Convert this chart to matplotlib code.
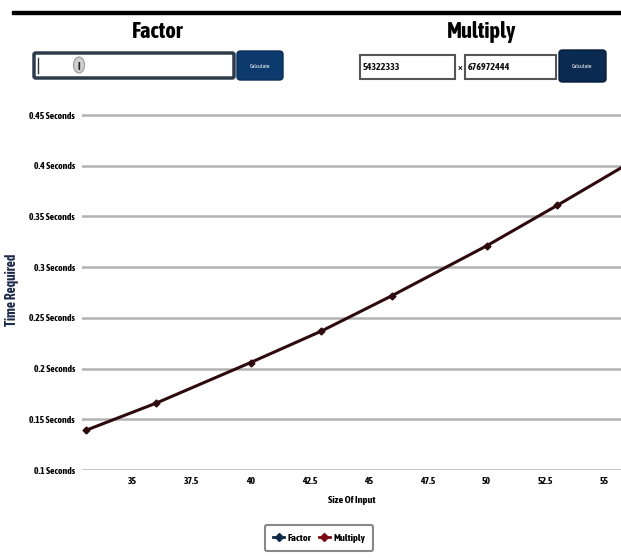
import matplotlib.pyplot as plt
from matplotlib import font_manager
from matplotlib.patches import FancyBboxPatch, Rectangle, Ellipse
from matplotlib.lines import Line2D

# data
input_size = [33, 36, 40, 43, 46, 50, 53, 56]
multiply_time = [0.139, 0.166, 0.206, 0.237, 0.272, 0.321, 0.361, 0.402]
factor_size = []
factor_time = []

y_ticks = [0.1, 0.15, 0.2, 0.25, 0.3, 0.35, 0.4, 0.45]
y_labels = ['0.1 Seconds', '0.15 Seconds', '0.2 Seconds', '0.25 Seconds',
            '0.3 Seconds', '0.35 Seconds', '0.4 Seconds', '0.45 Seconds']
x_ticks = [35, 37.5, 40, 42.5, 45, 47.5, 50, 52.5, 55]
x_labels = ['35', '37.5', '40', '42.5', '45', '47.5', '50', '52.5', '55']

W, H = 621, 558


def _weight(w):
    if isinstance(w, str):
        return {'bold': 700, 'heavy': 800, 'black': 900, 'semibold': 600,
                'demibold': 600, 'extra bold': 800}.get(w, 400)
    return w


# prefer a narrow upright bold face if one happens to be installed
fonts = font_manager.fontManager.ttflist
narrow = sorted({f.name for f in fonts
                 if ('Narrow' in f.name or 'Condensed' in f.name
                     or f.stretch in ('condensed', 'semi-condensed'))
                 and _weight(f.weight) >= 600 and f.style == 'normal'})
FONT = narrow[:1] + ['Liberation Sans', 'DejaVu Sans']
plt.rcParams['font.family'] = FONT
k = 1.15 if narrow else 1.0

fig = plt.figure(figsize=(W / 100, H / 100), dpi=100)
fig.patch.set_facecolor('white')


def fx(px):
    return px / W


def fy(py):
    return 1 - py / H


def box(x0, y0, x1, y1, **kw):
    p = FancyBboxPatch((fx(x0), fy(y1)), fx(x1 - x0), (y1 - y0) / H,
                       transform=fig.transFigure, **kw)
    fig.add_artist(p)


# top black bar
fig.add_artist(Rectangle((fx(12), fy(14)), fx(621 - 12), 3 / H,
                         transform=fig.transFigure, color='black'))

# headings
fig.text(fx(158), fy(32), 'Factor', ha='center', va='center',
         fontsize=14 * k, fontweight='bold')
fig.text(fx(482), fy(32), 'Multiply', ha='center', va='center',
         fontsize=14 * k, fontweight='bold')

# factor input + button
box(34, 53, 234, 78, boxstyle='round,pad=0,rounding_size=0.003',
    facecolor='white', edgecolor='#2c3b4c', linewidth=2.5)
fig.add_artist(Line2D([fx(38), fx(38)], [fy(58), fy(73)],
                      transform=fig.transFigure, color='#333333', lw=1))
fig.add_artist(Ellipse((fx(79), fy(65)), 11 / W, 16 / H,
                       transform=fig.transFigure, facecolor='#d0d0d0',
                       edgecolor='#999999', lw=0.8))
fig.text(fx(79), fy(66), 'I', ha='center', va='center', fontsize=8,
         fontweight='bold', color='#222222')
box(237, 51, 283, 80, boxstyle='round,pad=0,rounding_size=0.006',
    facecolor='#0d3a6e', edgecolor='#0a2c55', linewidth=1)
fig.text(fx(260), fy(66), 'Calculate', ha='center', va='center',
         fontsize=4.2, color='white')

# multiply inputs + button
box(360, 55, 455, 79, boxstyle='square,pad=0',
    facecolor='white', edgecolor='#555555', linewidth=1.5)
fig.text(fx(363), fy(67), '54322333', ha='left', va='center',
         fontsize=6.3 * k, fontweight='bold', color='#111111')
fig.text(fx(460), fy(67), '×', ha='center', va='center',
         fontsize=6.5, fontweight='bold', color='#111111')
box(465, 55, 556, 79, boxstyle='square,pad=0',
    facecolor='white', edgecolor='#555555', linewidth=1.5)
fig.text(fx(468), fy(67), '676972444', ha='left', va='center',
         fontsize=6.3 * k, fontweight='bold', color='#111111')
box(559, 50, 606, 82, boxstyle='round,pad=0,rounding_size=0.006',
    facecolor='#0a2a52', edgecolor='#061c3a', linewidth=1)
fig.text(fx(582), fy(66), 'Calculate', ha='center', va='center',
         fontsize=4.2, color='white')

# chart
ax = fig.add_axes([fx(82), fy(470), fx(621 - 82), (470 - 110) / H])
ax.set_xlim(32.85, 55.7)
ax.set_ylim(0.1, 0.455)
ax.set_yticks(y_ticks)
ax.set_yticklabels(y_labels)
ax.set_xticks(x_ticks)
ax.set_xticklabels(x_labels)
ax.tick_params(length=0, labelsize=6 * k, pad=5)
for lab in ax.get_xticklabels() + ax.get_yticklabels():
    lab.set_fontweight('bold')
for s in ax.spines.values():
    s.set_visible(False)
ax.grid(axis='y', color='#b3b3b3', linewidth=1.8)
ax.set_axisbelow(True)

f_line, = ax.plot(factor_size, factor_time, color='#0d2a4a', lw=1.8,
                  marker='D', markersize=3.5, label='Factor')
m_line, = ax.plot(input_size, multiply_time, color='#2e0a0e', lw=2.2,
                  marker='D', markersize=3.5, label='Multiply', clip_on=True)

ax.set_xlabel('Size Of Input', fontsize=6.5 * k, fontweight='bold', labelpad=7)
ax.set_ylabel('Time Required', fontsize=8.5 * k, fontweight='bold',
              color='#1c2a4a', labelpad=0)
ax.yaxis.set_label_coords(-(82 - 19) / (621 - 82), 0.5)

f_leg = Line2D([], [], color='#0d2a4a', lw=2, marker='D', markersize=4.5)
m_leg = Line2D([], [], color='#7a0a14', lw=2, marker='D', markersize=4.5)
leg = fig.legend([f_leg, m_leg], ['Factor', 'Multiply'], loc='center',
                 bbox_to_anchor=(fx(319), fy(538)), ncol=2, fontsize=6.5 * k,
                 handlelength=1.1, handletextpad=0.3, columnspacing=0.7,
                 frameon=True, fancybox=True, edgecolor='#888888',
                 borderpad=0.8, framealpha=1)
leg.get_frame().set_linewidth(1.5)
for t in leg.get_texts():
    t.set_fontweight('bold')

fig.savefig('out.png', dpi=100)
